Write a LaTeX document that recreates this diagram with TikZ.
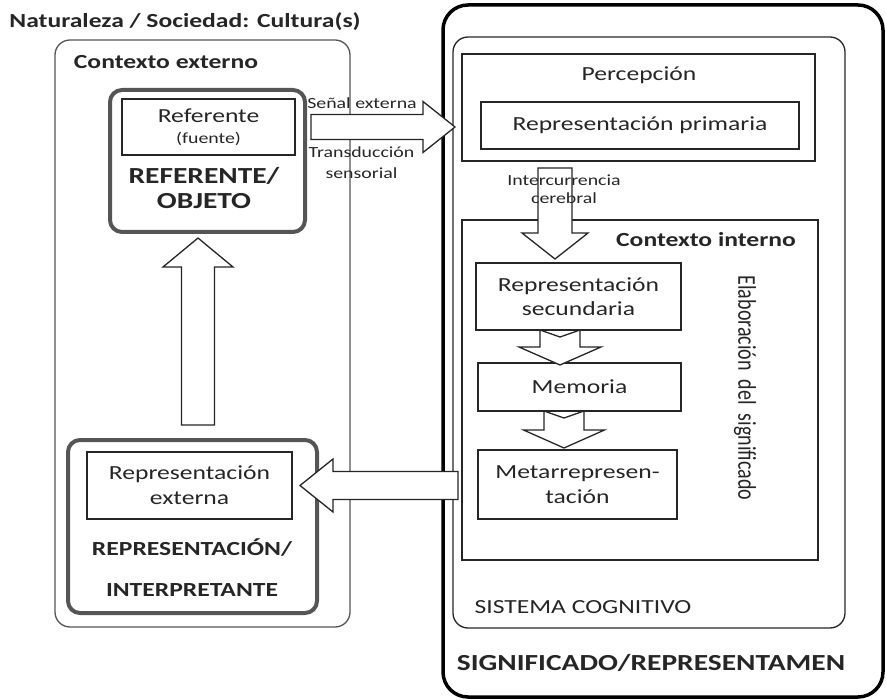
\documentclass[tikz,border=0pt]{standalone}
\usepackage{fontspec}
\setmainfont{Carlito}[FakeStretch=1.28]
\newfontfamily\plainfont{Carlito}
\usetikzlibrary{calc}
\definecolor{inkgray}{RGB}{38, 38, 38}
\definecolor{framegray}{RGB}{85, 85, 85}

% hollow block arrow: from, to, shaft half width, head half width, head length, notch
\newcommand{\fatarrow}[6]{%
  \coordinate (fa-s) at #1;
  \coordinate (fa-t) at #2;
  \coordinate (fa-h) at ($(fa-t)!#5!(fa-s)$);
  \draw[fatarr] ($(fa-s)!#3!90:(fa-t)$) -- ($(fa-h)!#3!-90:(fa-s)$)
    -- ($(fa-h)!#4!-90:(fa-s)$) -- (fa-t) -- ($(fa-h)!#4!90:(fa-s)$)
    -- ($(fa-h)!#3!90:(fa-s)$) -- ($(fa-s)!#3!-90:(fa-t)$)
    -- ($(fa-s)!#6!(fa-t)$) -- cycle;}

\begin{document}
\begin{tikzpicture}[x=1pt, y=-1pt,
  txt/.style={text=inkgray, font=\fontsize{20}{24}\selectfont, inner sep=0pt, align=center},
  smalltxt/.style={text=inkgray, font=\fontsize{15.5}{20}\selectfont, inner sep=0pt, align=center},
  headtxt/.style={text=inkgray, font=\bfseries\fontsize{20}{24}\selectfont, inner sep=0pt, align=center},
  bigtxt/.style={text=inkgray, font=\bfseries\fontsize{23}{25}\selectfont, inner sep=0pt, align=center},
  thinbox/.style={draw=inkgray, line width=1.3pt, inner sep=0pt, outer sep=0pt, align=center, text=inkgray, font=\fontsize{20}{24}\selectfont},
  roundbox/.style={draw=framegray, line width=1.3pt, rounded corners=15pt, inner sep=0pt, outer sep=0pt},
  thickbox/.style={draw=framegray, line width=4pt, rounded corners=12pt, inner sep=0pt, outer sep=0pt},
  fatarr/.style={draw=inkgray, line width=1.3pt, fill=white, line join=miter}
]
  \useasboundingbox (0,0) rectangle (886,700);

  % left side: external context
  \node[headtxt] (nature) at (185,22) {Naturaleza / Sociedad: Cultura(s)};
  \node[roundbox, minimum width=295pt, minimum height=587pt] (extctx) at (202.5,333.5) {};
  \node[headtxt] (extlbl) at (166,62) {Contexto externo};

  \node[thickbox, minimum width=195pt, minimum height=142pt] (refobj) at (207.5,161) {};
  \node[thinbox, minimum width=173pt, minimum height=56pt] (referente) at (208.5,127)
    {Referente\\[-3pt]{\fontsize{15.5}{18}\selectfont (fuente)}};
  \node[bigtxt] (reflbl) at (204,188.5) {REFERENTE/\\OBJETO};

  \node[thickbox, minimum width=249pt, minimum height=173pt] (repint) at (192.5,526.5) {};
  \node[thinbox, minimum width=205pt, minimum height=67pt] (repext) at (189.5,485.5)
    {Representación\\[1pt]externa};
  \node[headtxt] (intlbl) at (192,567.5) {REPRESENTACIÓN/\\[17pt]INTERPRETANTE};

  % right side: cognitive system
  \node[draw=black, line width=3.5pt, rounded corners=25pt, inner sep=0pt, outer sep=0pt,
    minimum width=440pt, minimum height=692pt] (signif) at (663,351) {};
  \node[roundbox, draw=inkgray, minimum width=392pt, minimum height=591pt] (sistema) at (649,332.5) {};
  \node[thinbox, minimum width=353pt, minimum height=107pt] (percep) at (638.5,107.5) {};
  \node[txt] (perclbl) at (639,75) {Percepción};
  \node[thinbox, minimum width=318pt, minimum height=47pt] (repprim) at (640,125.5) {Representación primaria};

  \node[thinbox, minimum width=356pt, minimum height=340pt] (intctx) at (640,390) {};
  \node[headtxt] (intctxlbl) at (706,240) {Contexto interno};
  \node[thinbox, minimum width=205pt, minimum height=67pt] (repsec) at (578.5,296.5)
    {Representación\\secundaria};
  \node[thinbox, minimum width=203pt, minimum height=48pt] (memoria) at (579.5,387) {Memoria};
  \node[thinbox, minimum width=199pt, minimum height=69pt] (metarep) at (577.5,484.5)
    {Metarrepresen-\\[1pt]tación};

  % block arrows
  \fatarrow{($(refobj.east |- referente.east)+(6,0)$)}{($(sistema.west |- referente.east)+(2,0)$)}{12.5pt}{25.5pt}{32pt}{0pt}
  \fatarrow{($(repint.north)+(5.5,-15)$)}{($(refobj.south)+(-9.5,6)$)}{16.5pt}{35pt}{29pt}{0pt}
  \fatarrow{($(percep.south)+(-83.5,7)$)}{($(repsec.north)+(-23.5,-4)$)}{17pt}{33pt}{26pt}{0pt}
  \fatarrow{($(repsec.south)+(-18.5,0)$)}{($(memoria.north)+(-19.5,2)$)}{20pt}{41pt}{18pt}{7pt}
  \fatarrow{($(memoria.south)+(-15.5,0)$)}{($(metarep.north)+(-13.5,-2)$)}{20pt}{40.5pt}{18pt}{7pt}
  \fatarrow{($(intctx.west |- repext.east)+(-4,0)$)}{($(repext.east)+(8,0)$)}{14pt}{26.5pt}{33pt}{0pt}

  % arrow labels
  \node[smalltxt] (senal) at (362,103) {Señal externa};
  \node[smalltxt, font=\fontsize{15.5}{21}\selectfont] (transd) at (361.5,162.5) {Transducción\\sensorial};
  \node[smalltxt, font=\fontsize{15.5}{18}\selectfont] (intercur) at (564,189) {Intercurrencia\\cerebral};

  \node[inner sep=0pt, text=inkgray, rotate=-90] (elab) at (745,388)
    {\scalebox{1}[1.28]{\plainfont\fontsize{20}{24}\selectfont Elaboración\ \ del\ \ significado}};
  \node[txt] (sistlbl) at (583,607) {SISTEMA COGNITIVO};
  \node[bigtxt] (signlbl) at (651,663) {SIGNIFICADO/REPRESENTAMEN};
\end{tikzpicture}
\end{document}
